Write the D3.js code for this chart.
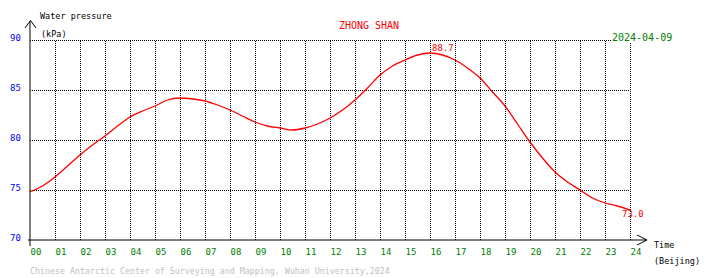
<!DOCTYPE html>
<html>
<head>
<meta charset="utf-8">
<script src="https://cdn.jsdelivr.net/npm/d3@7"></script>
<style>
body { margin: 0; background: #fff; }
svg text { font-family: "DejaVu Sans Mono", monospace; }
</style>
</head>
<body>
<svg id="chart" width="710" height="278"></svg>
<script>
// hours 0..24, every half hour
let hours = [0,0.5,1,1.5,2,2.5,3,3.5,4,4.5,5,5.5,6,6.5,7,7.5,8,8.5,9,9.5,10,10.5,11,11.5,12,
	12.5,13,13.5,14,14.5,15,15.5,16,16.5,17,17.5,18,18.5,19,19.5,20,20.5,21,21.5,22,22.5,23,23.5,24];
let pressure = [74.8,75.4,76.3,77.4,78.5,79.5,80.4,81.4,82.3,82.9,83.4,84.0,84.2,84.1,83.9,83.5,83.0,82.4,81.8,81.4,81.2,81.0,81.2,81.6,82.2,
	83.0,84.0,85.2,86.5,87.4,88.0,88.5,88.7,88.5,88.0,87.2,86.2,84.8,83.4,81.6,79.8,78.2,76.8,75.8,75.0,74.2,73.7,73.4,73.0];
let xTicks = d3.range(0, 25);
let xLabels = xTicks.map(d => String(d).padStart(2, "0"));
let yTicks = [70, 75, 80, 85, 90];
let maxLabel = "88.7";
let lastLabel = "73.0";

let svg = d3.select("#chart");
let x = d3.scaleLinear().domain([0, 24]).range([30, 630]);
let y = d3.scaleLinear().domain([70, 90]).range([240, 40]);

// сетка горизонтальная
let gy = svg.append("g")
	.attr("transform", "translate(30,0)")
	.call(d3.axisLeft(y).tickValues(yTicks).tickSize(-600).tickFormat(d => d));
gy.select(".domain").remove();
gy.selectAll("line")
	.attr("stroke", "#000")
	.attr("stroke-dasharray", "1,1")
	.style("display", d => d == 70 ? "none" : null);
gy.selectAll("text")
	.attr("x", -20).attr("dy", 0).attr("y", 0)
	.attr("text-anchor", "start")
	.attr("fill", "#0000ff")
	.style("font-size", "9px");

// сетка вертикальная
let gx = svg.append("g")
	.attr("transform", "translate(0,240)")
	.call(d3.axisBottom(x).tickValues(xTicks.slice(1)).tickSize(-200).tickFormat(""));
gx.select(".domain").remove();
gx.selectAll("line").attr("stroke", "#000").attr("stroke-dasharray", "1,1");

// подписи часов
let gl = svg.append("g")
	.attr("transform", "translate(0,240)")
	.call(d3.axisBottom(x).tickValues(xTicks).tickSize(0).tickFormat((d, i) => xLabels[i]));
gl.select(".domain").remove();
gl.selectAll("text")
	.attr("x", 0).attr("y", 15).attr("dy", 0)
	.attr("text-anchor", "start")
	.attr("fill", "#008000")
	.style("font-size", "9px");

// оси со стрелками
svg.append("line").attr("x1", 30).attr("y1", 246).attr("x2", 30).attr("y2", 21).attr("stroke", "#000");
svg.append("polyline").attr("points", "25,28 30.5,20.5 36,28").attr("fill", "none").attr("stroke", "#000");
svg.append("line").attr("x1", 28).attr("y1", 240).attr("x2", 647).attr("y2", 240).attr("stroke", "#000");
svg.append("polyline").attr("points", "637,235 647,240 637,245").attr("fill", "none").attr("stroke", "#000");

// кривая давления
let data = hours.map((h, i) => ({h: h, v: pressure[i]}));
svg.append("path")
	.datum(data)
	.attr("fill", "none")
	.attr("stroke", "#ff0000")
	.attr("stroke-width", 1.3)
	.attr("d", d3.line().x(d => x(d.h)).y(d => y(d.v)).curve(d3.curveMonotoneX));

let iMax = d3.maxIndex(pressure);
svg.append("text").attr("x", x(hours[iMax]) + 2).attr("y", y(pressure[iMax]) - 2)
	.attr("fill", "#ff0000").style("font-size", "9px").text(maxLabel);
svg.append("text").attr("x", x(hours[hours.length - 1]) - 8).attr("y", y(pressure[pressure.length - 1]) + 7)
	.attr("fill", "#ff0000").style("font-size", "9px").text(lastLabel);

// подписи
svg.append("text").attr("x", 40).attr("y", 19).attr("fill", "#000").style("font-size", "8.5px").text("Water pressure");
svg.append("text").attr("x", 41).attr("y", 37).attr("fill", "#000").style("font-size", "8.5px").text("(kPa)");
svg.append("text").attr("x", 654).attr("y", 248).attr("fill", "#000").style("font-size", "8.5px").text("Time");
svg.append("text").attr("x", 654).attr("y", 264).attr("fill", "#000").style("font-size", "8.5px").text("(Beijing)");
svg.append("text").attr("x", 369).attr("y", 29).attr("text-anchor", "middle").attr("fill", "#ff0000").style("font-size", "10px").text("ZHONG SHAN");
svg.append("rect").attr("x", 611).attr("y", 30).attr("width", 62).attr("height", 12).attr("fill", "#fff");
svg.append("text").attr("x", 612).attr("y", 41).attr("fill", "#008000").style("font-size", "10px").text("2024-04-09");
svg.append("text").attr("x", 30).attr("y", 274).attr("fill", "#c0c0c0").style("font-size", "8.3px")
	.text("Chinese Antarctic Center of Surveying and Mapping, Wuhan University,2024");
</script>
</body>
</html>
